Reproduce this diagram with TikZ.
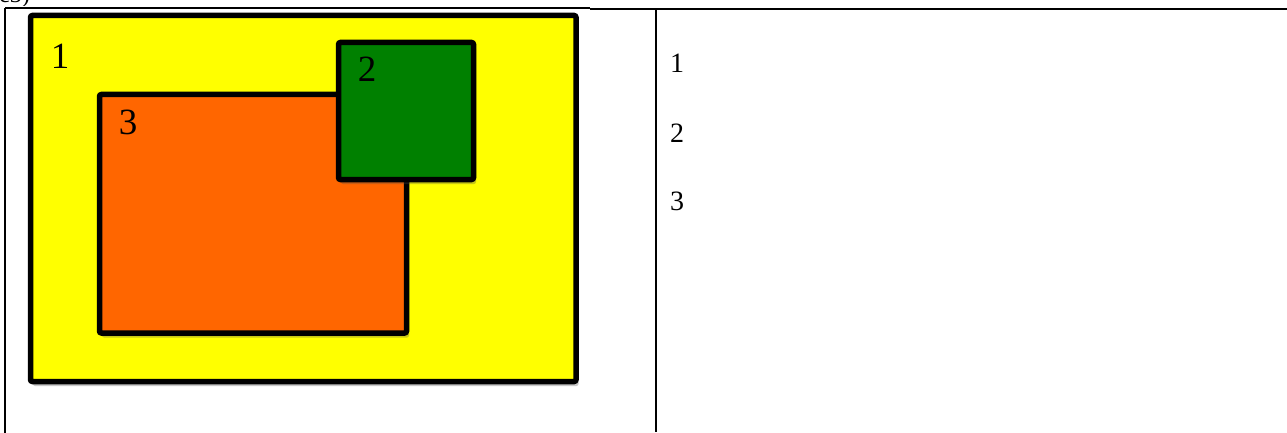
\documentclass[tikz,border=0pt]{standalone}
\usepackage{fontspec}
\setmainfont{Liberation Serif}
\usetikzlibrary{shadows}
\definecolor{boxyellow}{HTML}{FFFF00}
\definecolor{boxorange}{HTML}{FF6600}
\definecolor{boxgreen}{HTML}{008000}
\tikzset{
  colbox/.style={draw=black, line width=5.5pt, rounded corners=2pt,
    drop shadow={shadow xshift=2.5pt, shadow yshift=-4.5pt, opacity=0.3, fill=black!70}},
  biglabel/.style={font=\fontsize{37}{40}\selectfont, inner sep=0pt},
  smalllabel/.style={font=\fontsize{28}{30}\selectfont, inner sep=0pt},
  tableline/.style={draw=black, line width=2pt}
}
\begin{document}
\begin{tikzpicture}[x=1pt,y=-1pt]
\useasboundingbox (0,0) rectangle (1287,433);
\fill[white] (0,0) rectangle (1287,433);
% clipped caption fragment at the very top
\begin{scope}
\clip (0,0) rectangle (200,6);
\node[anchor=base west, font=\fontsize{24}{26}\selectfont, inner sep=0pt] (cap) at (-1,3) {c3)};
\end{scope}
% table lines
\coordinate (tl) at (5,8.5);
\coordinate (tm) at (590,8.5);
\coordinate (tr) at (1287,9);
\coordinate (tm2) at (590,9);
\coordinate (bl) at (5,433);
\coordinate (mtop) at (655.5,9);
\coordinate (mbot) at (655.5,432);
\draw[tableline] (tl) -- (tm);
\draw[draw=black, line width=2.6pt] (tm2) -- (tr);
\draw[tableline] (tl) -- (bl);
\draw[tableline] (mtop) -- (mbot);
% boxes
\path[colbox, fill=boxyellow] (30.5,15.5) rectangle (576,381.5);
\path[colbox, fill=boxorange] (99.5,94.5) rectangle (406.5,333);
\path[colbox, fill=boxgreen] (338.5,42.5) rectangle (473.5,179.5);
% labels
\node[biglabel] (l1) at (60,56) {1};
\node[biglabel] (l2) at (367,69) {2};
\node[biglabel] (l3) at (128,122) {3};
\node[smalllabel] (r1) at (677,63) {1};
\node[smalllabel] (r2) at (677,133) {2};
\node[smalllabel] (r3) at (677,201) {3};
\end{tikzpicture}
\end{document}
